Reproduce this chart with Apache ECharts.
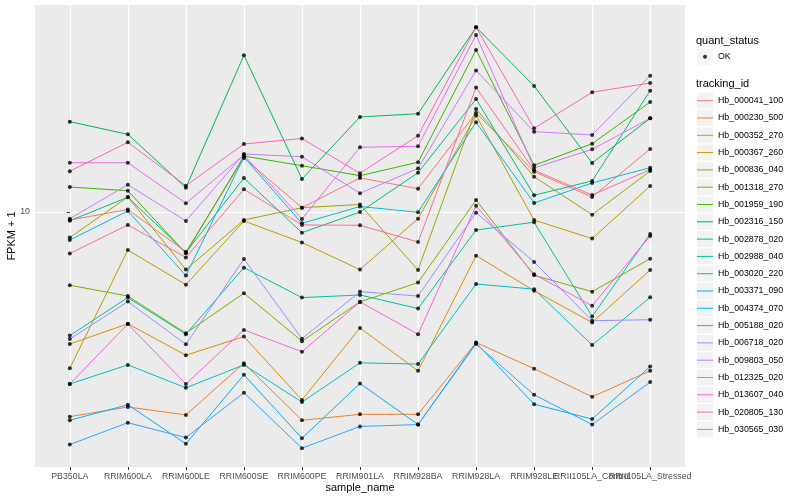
<!DOCTYPE html>
<html><head><meta charset="utf-8">
<script src="https://cdn.jsdelivr.net/npm/echarts@6/dist/echarts.min.js"></script>
<style>html,body{margin:0;padding:0;background:#fff}#c{width:800px;height:500px}</style>
</head><body><div id="c"></div>
<script>
const categories = ['PB350LA','RRIM600LA','RRIM600LE','RRIM600SE','RRIM600PE','RRIM901LA','RRIM928BA','RRIM928LA','RRIM928LE','RRII105LA_Control','RRII105LA_Stressed'];
const trackingIds = ['Hb_000041_100','Hb_000230_500','Hb_000352_270','Hb_000367_260','Hb_000836_040','Hb_001318_270','Hb_001959_190','Hb_002316_150','Hb_002878_020','Hb_002988_040','Hb_003020_220','Hb_003371_090','Hb_004374_070','Hb_005188_020','Hb_006718_020','Hb_009803_050','Hb_012325_020','Hb_013607_040','Hb_020805_130','Hb_030565_030'];
const quantStatus = ['OK'];
const yTickValues = [10];

const Hb_000041_100 = [9.47, 10.17, 7.64, 14.41, 10.30, 12.59, 11.71, 19.55, 13.14, 11.07, 15.32];
const Hb_000230_500 = [2.50, 2.67, 2.53, 3.59, 2.44, 2.54, 2.54, 4.13, 3.46, 2.86, 3.41];
const Hb_000352_270 = [4.09, 4.69, 3.79, 4.30, 2.80, 4.56, 3.41, 7.44, 5.87, 4.73, 6.75];
const Hb_000367_260 = [3.47, 7.73, 6.11, 9.41, 8.13, 6.77, 9.56, 19.22, 9.47, 8.35, 11.92];
const Hb_000836_040 = [8.41, 11.07, 6.77, 9.47, 10.30, 10.52, 6.75, 20.09, 12.70, 9.82, 13.20];
const Hb_001318_270 = [6.09, 5.66, 4.40, 5.77, 4.17, 5.44, 6.20, 10.85, 6.51, 5.83, 7.29];
const Hb_001959_190 = [11.84, 11.55, 7.56, 14.61, 13.68, 12.79, 14.01, 29.95, 13.72, 15.88, 21.06];
const Hb_002316_150 = [18.44, 16.92, 11.79, 28.90, 12.50, 19.03, 19.46, 34.94, 23.48, 13.94, 18.86];
const Hb_002878_020 = [9.43, 11.05, 7.60, 12.59, 8.69, 10.00, 13.05, 21.49, 11.20, 12.34, 22.74];
const Hb_002988_040 = [4.33, 5.60, 4.37, 6.86, 5.60, 5.70, 5.20, 8.85, 9.33, 4.93, 8.62];
const Hb_003020_220 = [3.12, 3.55, 3.04, 3.55, 2.76, 3.60, 3.57, 6.14, 5.93, 4.06, 5.61];
const Hb_003371_090 = [8.27, 10.07, 6.50, 14.51, 9.26, 10.38, 9.98, 18.36, 10.63, 12.17, 13.50];
const Hb_004374_070 = [2.44, 2.71, 2.08, 3.32, 2.16, 3.13, 2.37, 4.12, 2.72, 2.46, 3.51];
const Hb_005188_020 = [2.07, 2.40, 2.17, 2.94, 2.02, 2.34, 2.37, 4.09, 2.90, 2.37, 3.16];
const Hb_006718_020 = [4.23, 5.45, 4.08, 7.27, 4.24, 5.83, 5.66, 9.95, 7.13, 4.79, 4.82];
const Hb_009803_050 = [9.56, 12.03, 9.41, 14.81, 14.54, 11.35, 13.43, 26.08, 17.23, 16.85, 25.18];
const Hb_012325_020 = [13.96, 13.96, 10.61, 14.71, 9.54, 15.50, 15.61, 33.16, 13.47, 15.29, 18.86];
const Hb_013607_040 = [3.12, 4.68, 3.12, 4.50, 3.88, 5.44, 4.37, 10.43, 6.56, 5.30, 8.50];
const Hb_020805_130 = [13.18, 16.03, 11.95, 15.85, 16.45, 13.00, 16.77, 34.94, 17.63, 22.50, 23.96];
const Hb_030565_030 = [7.55, 9.16, 7.35, 11.66, 9.16, 9.14, 8.16, 23.24, 13.27, 11.22, 13.32];

const seriesValues = [Hb_000041_100, Hb_000230_500, Hb_000352_270, Hb_000367_260, Hb_000836_040, Hb_001318_270, Hb_001959_190, Hb_002316_150, Hb_002878_020, Hb_002988_040, Hb_003020_220, Hb_003371_090, Hb_004374_070, Hb_005188_020, Hb_006718_020, Hb_009803_050, Hb_012325_020, Hb_013607_040, Hb_020805_130, Hb_030565_030];

const palette = ['#F8766D','#EA8331','#D89000','#C09B00','#A3A500','#7CAE00','#39B600','#00BB4E','#00BF7D','#00C1A3','#00BFC4','#00BAE0','#00B0F6','#35A2FF','#9590FF','#C77CFF','#E76BF3','#FA62DB','#FF62BC','#FF6C91'];

const FONT = '"Liberation Sans", Arial, Helvetica, sans-serif';
const catIdx = categories.map((c, i) => i);
// labels split over two stacked axes so overlapping names all stay visible
const labelIdxA = catIdx.filter(i => i !== 9);
const labelIdxB = [9];

const lineSeries = trackingIds.map((id, k) => ({
  name: id, type: 'line', xAxisIndex: 0, yAxisIndex: 0,
  data: seriesValues[k].map((v, i) => [i, v]),
  showSymbol: false, symbol: 'none',
  color: palette[k],
  lineStyle: { width: 1, color: palette[k] },
  emphasis: { disabled: true }, silent: true, z: 2
}));
const points = [];
seriesValues.forEach(arr => arr.forEach((v, i) => points.push([i, v])));
const okSeries = {
  name: 'OK', type: 'scatter', xAxisIndex: 0, yAxisIndex: 0, data: points, symbol: 'circle', symbolSize: 4,
  itemStyle: { color: '#000' }, emphasis: { disabled: true }, silent: true, z: 3
};

const LINE_ICON = 'path://M0,0M16,16M0,7.5L16,7.5L16,8.5L0,8.5Z';
const DOT_ICON = 'path://M0,0M16,16M10,8A2,2,0,1,1,6,8A2,2,0,1,1,10,8Z';
function boxLegend(data, top) {
  return { data, top, left: 697, orient: 'vertical', padding: 0, itemWidth: 16, itemHeight: 16, itemGap: 1.3,
    icon: 'rect', itemStyle: { color: '#F2F2F2', borderWidth: 0 }, selectedMode: false,
    textStyle: { fontSize: 8.8, color: '#000', fontFamily: FONT }, z: 4 };
}
function overlayLegend(data, top, icon) {
  return { data, top, left: 697, orient: 'vertical', padding: 0, itemWidth: 16, itemHeight: 16, itemGap: 1.3,
    icon, itemStyle: { borderWidth: 0 }, symbolKeepAspect: true, selectedMode: false,
    textStyle: { fontSize: 8.8, color: 'rgba(0,0,0,0)', fontFamily: FONT }, z: 5 };
}
const labelStyle = { fontSize: 8.8, color: '#4D4D4D', margin: 5, fontFamily: FONT, showMinLabel: true, showMaxLabel: true, hideOverlap: false };

const chart = echarts.init(document.getElementById('c'));
chart.setOption({
  animation: false,
  backgroundColor: '#ffffff',
  textStyle: { fontFamily: FONT },
  title: [
    { text: 'quant_status', left: 696, top: 35, padding: 0, textStyle: { fontSize: 11, fontWeight: 'normal', color: '#000', fontFamily: FONT } },
    { text: 'tracking_id', left: 696, top: 78.5, padding: 0, textStyle: { fontSize: 11, fontWeight: 'normal', color: '#000', fontFamily: FONT } }
  ],
  legend: [
    boxLegend(quantStatus, 48.7),
    overlayLegend(quantStatus, 48.7, DOT_ICON),
    boxLegend(trackingIds, 92.7),
    overlayLegend(trackingIds, 92.7, LINE_ICON)
  ],
  grid: { left: 35, right: 115, top: 5, bottom: 33, show: true, backgroundColor: '#EBEBEB', borderWidth: 0, containLabel: false, outerBoundsMode: 'none' },
  xAxis: [{
    type: 'value', min: -0.6, max: 10.6, position: 'bottom',
    name: 'sample_name', nameLocation: 'middle', nameGap: 15, nameMoveOverlap: false,
    nameTextStyle: { fontSize: 11, color: '#000', fontFamily: FONT },
    axisLine: { show: false },
    axisTick: { show: true, length: 3, lineStyle: { color: '#333333', width: 1 }, customValues: catIdx },
    axisLabel: Object.assign({ customValues: labelIdxA, formatter: v => categories[Math.round(v)] }, labelStyle),
    splitLine: { show: true, lineStyle: { color: '#ffffff', width: 1.1 } }
  }, {
    type: 'value', min: -0.6, max: 10.6, position: 'bottom', offset: 0,
    axisLine: { show: false }, axisTick: { show: false }, splitLine: { show: false },
    axisLabel: Object.assign({ customValues: labelIdxB, formatter: v => categories[Math.round(v)] }, labelStyle)
  }],
  yAxis: {
    type: 'log', logBase: 10, min: 1.778, max: 40.63,
    name: 'FPKM + 1', nameLocation: 'middle', nameGap: 17.5, nameMoveOverlap: false,
    nameTextStyle: { fontSize: 11, color: '#000', fontFamily: FONT },
    axisLine: { show: false },
    axisTick: { show: true, length: 3, lineStyle: { color: '#333333', width: 1 }, customValues: yTickValues },
    axisLabel: { customValues: yTickValues, formatter: v => String(Math.round(v)), fontSize: 8.8, color: '#4D4D4D', margin: 5, fontFamily: FONT },
    splitLine: { show: true, lineStyle: { color: '#ffffff', width: 1.1 } }
  },
  series: [...lineSeries, okSeries]
});
</script></body></html>
